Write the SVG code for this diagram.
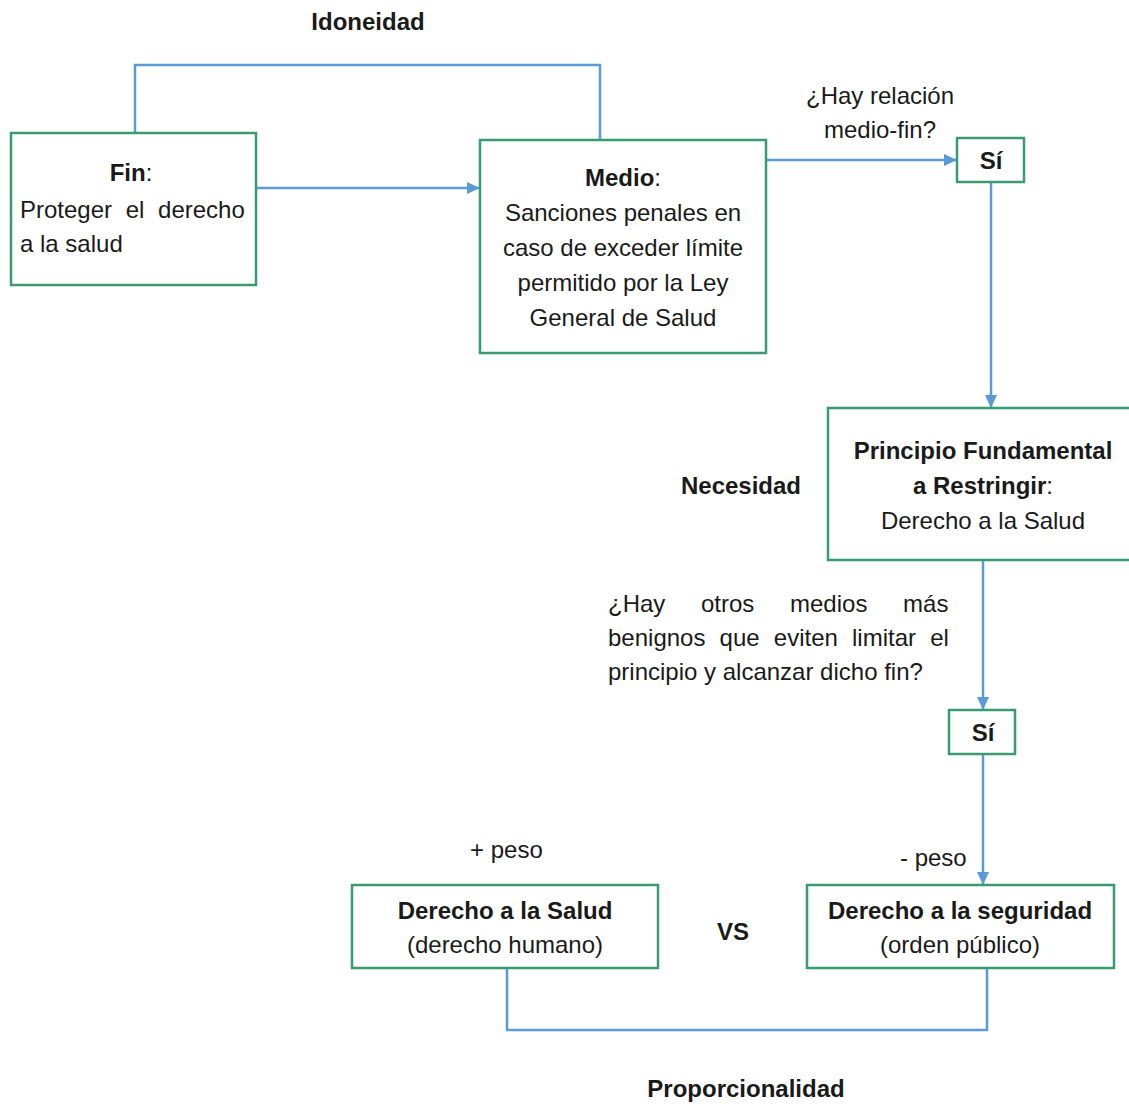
<svg xmlns="http://www.w3.org/2000/svg" width="1129" height="1107" viewBox="0 0 1129 1107">
  <style>
    .box { fill: #ffffff; stroke: #3a9a72; stroke-width: 2.5; }
    .conn { fill: none; stroke: #5b9bd5; stroke-width: 2.5; }
    text { font-family: "Liberation Sans", Arial, sans-serif; font-size: 24px; fill: #1a1a1a; }
    .b { font-weight: bold; }
    .c { text-anchor: middle; }
  </style>
  <defs>
    <marker id="arr" markerUnits="userSpaceOnUse" markerWidth="13" markerHeight="12" refX="13" refY="6" orient="auto">
      <path d="M0,0 L13,6 L0,12 z" fill="#5b9bd5"/>
    </marker>
  </defs>
  <rect width="1129" height="1107" fill="#ffffff"/>

  <g id="connectors">
    <polyline class="conn" points="135,133 135,65 600,65 600,140"/>
    <line class="conn" x1="256" y1="188" x2="480" y2="188" marker-end="url(#arr)"/>
    <line class="conn" x1="766" y1="160" x2="957" y2="160" marker-end="url(#arr)"/>
    <line class="conn" x1="991" y1="182" x2="991" y2="408" marker-end="url(#arr)"/>
    <line class="conn" x1="983" y1="560" x2="983" y2="710" marker-end="url(#arr)"/>
    <line class="conn" x1="983" y1="754" x2="983" y2="885" marker-end="url(#arr)"/>
    <polyline class="conn" points="507,968 507,1030 987,1030 987,968"/>
  </g>

  <g id="labels">
    <text class="b c" x="368" y="30">Idoneidad</text>
    <text class="c" x="880" y="104">¿Hay relación</text>
    <text class="c" x="880" y="138">medio-fin?</text>
    <text class="b c" x="741" y="494">Necesidad</text>
    <text x="608" y="612" word-spacing="29">¿Hay otros medios más</text>
    <text x="608" y="646" word-spacing="7.5">benignos que eviten limitar el</text>
    <text x="608" y="680">principio y alcanzar dicho fin?</text>
    <text x="470" y="858">+ peso</text>
    <text x="900" y="866">- peso</text>
    <text class="b c" x="733" y="940">VS</text>
    <text class="b c" x="746" y="1097">Proporcionalidad</text>
  </g>

  <g id="node-fin">
    <rect class="box" x="11" y="133" width="245" height="152"/>
    <text class="c" x="131" y="181"><tspan class="b">Fin</tspan>:</text>
    <text x="20" y="218" word-spacing="7">Proteger el derecho</text>
    <text x="20" y="252">a la salud</text>
  </g>

  <g id="node-medio">
    <rect class="box" x="480" y="140" width="286" height="213"/>
    <text class="c" x="623" y="186"><tspan class="b">Medio</tspan>:</text>
    <text class="c" x="623" y="221">Sanciones penales en</text>
    <text class="c" x="623" y="256">caso de exceder límite</text>
    <text class="c" x="623" y="291">permitido por la Ley</text>
    <text class="c" x="623" y="326">General de Salud</text>
  </g>

  <g id="node-si1">
    <rect class="box" x="957" y="138" width="67" height="44"/>
    <text class="b c" x="991" y="169">Sí</text>
  </g>

  <g id="node-principio">
    <rect class="box" x="828" y="408" width="310" height="152"/>
    <text class="b c" x="983" y="459">Principio Fundamental</text>
    <text class="c" x="983" y="494"><tspan class="b">a Restringir</tspan>:</text>
    <text class="c" x="983" y="529">Derecho a la Salud</text>
  </g>

  <g id="node-si2">
    <rect class="box" x="949" y="710" width="66" height="44"/>
    <text class="b c" x="983" y="741">Sí</text>
  </g>

  <g id="node-salud">
    <rect class="box" x="352" y="885" width="306" height="83"/>
    <text class="b c" x="505" y="919">Derecho a la Salud</text>
    <text class="c" x="505" y="953">(derecho humano)</text>
  </g>

  <g id="node-seguridad">
    <rect class="box" x="807" y="885" width="307" height="83"/>
    <text class="b c" x="960" y="919">Derecho a la seguridad</text>
    <text class="c" x="960" y="953">(orden público)</text>
  </g>
</svg>
